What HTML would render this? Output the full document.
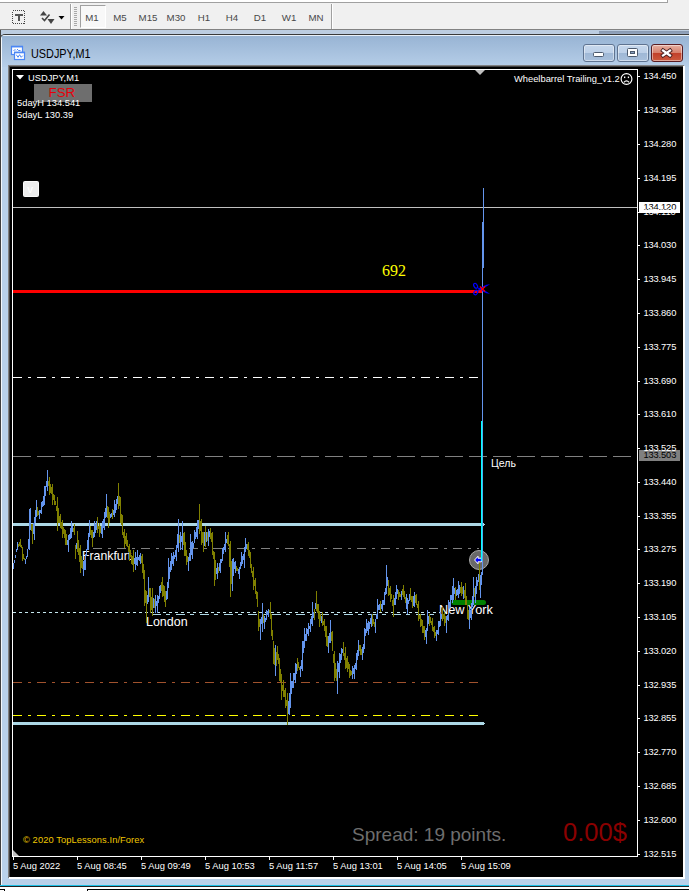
<!DOCTYPE html>
<html>
<head>
<meta charset="utf-8">
<title>USDJPY,M1</title>
<style>
html,body{margin:0;padding:0;overflow:hidden;}
html{width:689px;height:891px;}
body{width:689px;height:891px;overflow:hidden;position:relative;background:#f0f0f0;font-family:"Liberation Sans",sans-serif;}
.abs{position:absolute;}
/* toolbar */
#tb{position:absolute;left:0;top:0;width:689px;height:30px;background:#f0f0f0;}
#tbtop{position:absolute;left:0;top:0;width:667px;height:2px;background:#fff;border-bottom:1px solid #a0a0a0;border-right:1px solid #a0a0a0;}
.tf{position:absolute;top:11.5px;font-size:9.7px;line-height:12px;color:#484848;white-space:nowrap;transform:translateX(-50%);}
#m1btn{position:absolute;left:80px;top:5px;width:24px;height:21px;border:1px solid #a0a0a0;border-right-color:#fff;border-bottom-color:#fff;background:#f8f8f8;}
/* mdi */
#mdibg{position:absolute;left:0;top:30px;width:689px;height:861px;background:#bccde1;}
#tbline{position:absolute;left:0;top:29px;width:689px;height:1px;background:#828282;}
#win{position:absolute;left:0;top:34px;width:689px;height:851px;border:1px solid #3a3a3a;border-right:none;border-bottom:none;border-radius:5px 0 0 0;box-sizing:border-box;background:#b9d1ea;overflow:hidden;}
#mdileft{position:absolute;left:0;top:30px;width:1px;height:855px;background:#404040;}
#mdileft2{position:absolute;left:1px;top:38px;width:1px;height:847px;background:#f4f8fc;}
#bot{position:absolute;left:0;top:885px;width:689px;height:6px;background:#fff;border-top:1px solid #1cc0e6;box-sizing:border-box;}
#bot i{position:absolute;display:block;background:#000;}
#title{position:absolute;left:0;top:0;width:687px;height:31px;background:linear-gradient(#98b4d4,#b6cee8);border-top:1px solid #e8f0f8;border-left:1px solid #e8f0f8;}
#ttext{position:absolute;left:30.5px;top:46.5px;font-size:12px;line-height:14px;color:#000;white-space:nowrap;transform:scaleX(.905);transform-origin:0 0;}
#client{position:absolute;left:10px;top:67px;width:673px;height:810px;background:#000;}
#clientedge{position:absolute;left:8px;top:65px;width:676px;height:813px;background:#808080;}
#clientedge2{position:absolute;left:9px;top:66px;width:676px;height:813px;background:#404040;border-right:2px solid #fff;border-bottom:2px solid #fff;box-sizing:border-box;}
/* chart */
#chart{position:absolute;left:12px;top:69px;width:624px;height:785.5px;border:1px solid #fff;box-sizing:content-box;}
.ct{position:absolute;color:#fff;font-size:9.33px;line-height:10px;white-space:nowrap;}
.pl{position:absolute;margin-top:-0.5px;left:643.5px;color:#fff;font-size:9.33px;line-height:10px;white-space:nowrap;letter-spacing:-0.15px;}
.pt{position:absolute;left:638px;width:2px;height:1px;background:#fff;margin-top:-0.5px;}
.tl{position:absolute;top:861px;color:#fff;font-size:9.33px;line-height:10px;white-space:nowrap;}
.tt{position:absolute;top:857px;width:1px;height:3px;background:#fff;}
svg{position:absolute;left:0;top:0;}
.sl{font-size:13.33px;line-height:14px;transform-origin:0 0;}
.fsr{position:absolute;left:34px;top:84px;width:58px;height:18px;background:#6e6e6e;}
.fsrt{position:absolute;left:48.5px;top:86px;font-size:13.33px;line-height:14px;color:#e8000a;white-space:nowrap;}
.vbox{position:absolute;left:23px;top:181px;width:14px;height:14px;background:#ececec;border:1px solid #fafafa;border-radius:1.5px;}
.pbox{position:absolute;left:639px;width:41px;height:11px;font-size:9.33px;line-height:11px;text-indent:4.5px;white-space:nowrap;letter-spacing:-0.15px;}
.wb{position:absolute;top:44px;width:30px;height:16px;border:1px solid #5f7390;border-radius:3px;background:linear-gradient(#c7d8ec 0%,#bdd0e8 48%,#9fb8d6 52%,#a9c0dc 100%);box-shadow:inset 0 0 0 1px rgba(255,255,255,.45);}
.wbc{border-color:#5a1c22;background:linear-gradient(#e6b0a2 0%,#d7806c 48%,#c2402a 52%,#cc5a3e 100%);}

</style>
</head>
<body>
<div id="tb">
  <div id="tbtop"></div>
  <div id="m1btn"></div>
  <div class="tf" style="left:92px">M1</div>
  <div class="tf" style="left:120px">M5</div>
  <div class="tf" style="left:148px">M15</div>
  <div class="tf" style="left:176px">M30</div>
  <div class="tf" style="left:204px">H1</div>
  <div class="tf" style="left:232px">H4</div>
  <div class="tf" style="left:260px">D1</div>
  <div class="tf" style="left:289px">W1</div>
  <div class="tf" style="left:316px">MN</div>
</div>
<div id="mdibg"></div>
<div id="tbline"></div>
<div class="abs" style="left:599px;top:31px;width:90px;height:3px;background:linear-gradient(#8797ae,#93a6c0)"></div>
<div id="win"><div id="title"></div></div>
<div id="bot"><i style="left:0;top:0;width:689px;height:1px;background:#222"></i><i style="left:0;top:3px;width:5px;height:1px"></i><i style="left:4px;top:3px;width:1px;height:2px"></i><i style="left:87px;top:3px;width:602px;height:1px"></i><i style="left:87px;top:3px;width:1px;height:2px"></i></div>
<div id="mdileft"></div><div id="mdileft2"></div>
<div id="ttext">USDJPY,M1</div>
<div id="clientedge"></div>
<div id="clientedge2"></div>
<div id="client"></div>
<div id="chart"></div>

<div class="ct sl" style="left:82.3px;top:549.2px;transform:scaleX(.923)">Frankfurt</div>
<div class="ct sl" style="left:146.2px;top:615.2px;transform:scaleX(.935)">London</div>
<div class="ct sl" style="left:439.3px;top:603px;transform:scaleX(.958)">New York</div>
<div class="wb" style="left:583px"></div>
<div class="wb" style="left:617px"></div>
<div class="wb wbc" style="left:651px"></div>
<svg width="689" height="891" viewBox="0 0 689 891">

<!-- horizontal lines -->
<g shape-rendering="crispEdges" fill="none">
<path d="M13 207.5H637" stroke="#c0c0c0" stroke-width="1"/>
<path d="M13 291.5H482" stroke="#ff0000" stroke-width="3"/>
<path d="M13 377.5H479" stroke="#ffffff" stroke-width="1" stroke-dasharray="9 6 3 6"/>
<path d="M13 456.5H636" stroke="#808080" stroke-width="1" stroke-dasharray="18 6"/>
<path d="M13 524H484" stroke="#add8e6" stroke-width="3"/><path d="M484 524.5H485" stroke="#add8e6" stroke-width="1"/>
<path d="M92.5 548.5H479" stroke="#808080" stroke-width="1" stroke-dasharray="9 6 3 6"/>
<path d="M13 612.5H440" stroke="#c4e6ee" stroke-width="1" stroke-dasharray="3 3"/>
<path d="M152 614.5H440" stroke="#add8e6" stroke-width="1" stroke-dasharray="9 5 4 6"/>
<path d="M13 682.5H480" stroke="#a0522d" stroke-width="1" stroke-dasharray="9 6 3 6"/>
<path d="M13 715.5H479" stroke="#ffff00" stroke-width="1" stroke-dasharray="9 6 3 6"/>
<path d="M13 723H484" stroke="#add8e6" stroke-width="3"/><path d="M484 723.5H485" stroke="#add8e6" stroke-width="1"/>
</g>
<!-- circle marker -->
<circle cx="479" cy="560" r="9.5" fill="#696969" stroke="#a9a9a9" stroke-width="1"/>
<path d="M474.6 560L478 556.2V558.2H481.4V561.8H478V563.8Z" fill="#0000ff" stroke="#fff" stroke-width="1"/>
<path d="M454 602.5H483.5" stroke="#008000" stroke-width="5" stroke-linecap="round" fill="none"/>
<path d="M18.5 544V547M19.5 542V546M20.5 539V547M21.5 545V548M22.5 547V561M23.5 554V559M24.5 558V560M31.5 524V531M32.5 524V544M37.5 507V516M38.5 511V515M48.5 481V486M49.5 477V495M50.5 484V493M51.5 487V494M52.5 484V505M53.5 494V500M54.5 495V505M55.5 501V505M56.5 506V511M57.5 497V531M58.5 508V523M59.5 516V523M60.5 514V528M61.5 522V529M62.5 520V538M63.5 527V534M64.5 529V538M65.5 530V545M66.5 534V545M73.5 528V532M74.5 524V535M75.5 545V559M77.5 531V552M78.5 540V555M79.5 548V562M80.5 545V573M81.5 556V568M82.5 560V569M90.5 526V535M91.5 530V538M92.5 530V547M97.5 517V533M98.5 526V529M99.5 523V537M100.5 526V533M107.5 506V518M108.5 507V528M109.5 512V523M112.5 509V519M118.5 483V509M119.5 496V506M120.5 497V523M121.5 514V525M122.5 515V535M123.5 532V538M124.5 529V548M125.5 536V544M126.5 533V546M127.5 540V547M128.5 546V552M129.5 544V561M130.5 550V557M131.5 555V564M132.5 556V565M133.5 550V572M141.5 556V563M142.5 554V573M143.5 564V579M144.5 570V606M145.5 590V603M146.5 591V623M149.5 588V597M150.5 588V613M151.5 597V610M152.5 588V616M154.5 599V608M161.5 582V591M162.5 577V597M163.5 585V596M164.5 586V602M165.5 591V607M179.5 535V543M183.5 533V545M184.5 532V556M185.5 542V556M186.5 550V565M187.5 556V562M199.5 504V534M200.5 521V531M201.5 519V545M202.5 532V543M203.5 532V552M205.5 526V547M207.5 532V541M210.5 528V539M211.5 533V542M212.5 532V555M213.5 551V559M214.5 552V586M215.5 560V580M218.5 567V573M227.5 535V544M228.5 532V546M229.5 544V567M230.5 541V597M231.5 561V584M236.5 566V571M237.5 568V571M247.5 544V550M248.5 542V556M249.5 550V558M250.5 552V568M251.5 564V573M252.5 571V577M253.5 567V590M254.5 580V586M255.5 578V594M256.5 591V599M257.5 592V607M258.5 611V631M259.5 619V627M263.5 614V623M269.5 610V613M270.5 602V619M271.5 614V636M272.5 630V640M273.5 641V664M274.5 648V665M276.5 652V666M277.5 646V660M278.5 654V664M279.5 658V681M280.5 669V682M281.5 674V700M282.5 685V691M283.5 680V697M284.5 690V697M285.5 688V708M286.5 700V706M287.5 693V725M297.5 658V671M298.5 662V668M299.5 667V670M314.5 609V620M316.5 591V611M317.5 604V613M318.5 604V619M319.5 611V627M320.5 614V621M322.5 612V626M323.5 621V625M324.5 619V631M325.5 626V637M326.5 626V646M327.5 636V647M331.5 632V641M332.5 631V651M333.5 654V663M334.5 651V681M335.5 663V678M336.5 669V681M343.5 642V656M344.5 653V660M345.5 647V669M346.5 658V668M347.5 656V672M348.5 662V669M349.5 664V678M350.5 670V676M351.5 671V675M359.5 645V651M360.5 645V655M361.5 649V655M372.5 614V626M373.5 619V624M374.5 622V627M380.5 601V612M388.5 580V596M389.5 588V595M390.5 586V602M391.5 594V599M392.5 600V606M393.5 595V617M398.5 590V600M399.5 592V597M400.5 594V597M402.5 589V595M403.5 585V597M404.5 591V599M405.5 597V603M410.5 588V600M411.5 596V602M412.5 596V608M415.5 595V603M416.5 594V605M417.5 604V608M418.5 601V621M419.5 615V619M420.5 614V627M421.5 619V626M422.5 620V633M423.5 626V633M424.5 626V640M429.5 614V626M430.5 617V623M431.5 621V625M432.5 618V631M433.5 627V632M434.5 626V638M435.5 632V636M442.5 607V621M443.5 614V619M444.5 612V626M445.5 616V623M455.5 587V600M460.5 587V593M461.5 582V596M462.5 587V594M464.5 590V598M465.5 583V605M466.5 596V605M467.5 605V619M468.5 610V620M474.5 588V597M479.5 563V590" stroke="#808000" stroke-width="1" fill="none" shape-rendering="crispEdges"/><path d="M13.5 563V569M14.5 560V563M15.5 555V558M16.5 549V552M17.5 542V550M25.5 559V564M26.5 556V559M27.5 549V557M28.5 539V549M29.5 509V550M30.5 508V530M33.5 523V534M34.5 517V540M35.5 510V523M36.5 500V517M39.5 510V519M40.5 510V513M41.5 502V514M42.5 501V507M43.5 496V506M44.5 486V505M45.5 486V496M46.5 481V487M47.5 470V491M67.5 540V545M68.5 535V552M69.5 534V540M70.5 528V539M71.5 521V538M72.5 526V532M76.5 543V549M83.5 561V576M84.5 560V570M85.5 554V570M86.5 549V556M87.5 540V550M88.5 533V550M89.5 520V537M93.5 532V538M94.5 521V537M95.5 524V533M96.5 521V530M101.5 526V534M102.5 521V538M103.5 519V528M104.5 512V530M105.5 508V518M106.5 494V517M110.5 514V518M111.5 513V517M113.5 510V515M114.5 500V517M115.5 504V513M116.5 499V510M117.5 496V504M134.5 558V564M135.5 552V570M136.5 557V565M137.5 550V566M138.5 557V560M139.5 555V561M140.5 553V564M147.5 595V604M148.5 577V602M153.5 598V608M155.5 595V613M156.5 601V606M157.5 595V613M158.5 596V603M159.5 586V599M160.5 585V593M166.5 591V600M167.5 582V599M168.5 558V588M169.5 567V579M170.5 561V572M171.5 553V570M172.5 556V564M173.5 552V566M174.5 555V559M175.5 550V557M176.5 545V561M177.5 534V548M178.5 519V552M180.5 532V550M181.5 536V542M182.5 521V550M188.5 557V571M189.5 553V561M190.5 534V561M191.5 542V555M192.5 541V559M193.5 543V548M194.5 530V543M195.5 532V539M196.5 527V537M197.5 520V539M198.5 520V529M204.5 532V546M206.5 532V542M208.5 529V546M209.5 531V537M216.5 568V574M217.5 563V579M219.5 563V571M220.5 559V573M221.5 559V563M222.5 548V561M223.5 547V554M224.5 544V550M225.5 532V552M226.5 539V543M232.5 559V591M233.5 558V576M234.5 562V569M235.5 561V573M238.5 569V574M239.5 567V579M240.5 562V569M241.5 552V566M242.5 556V564M243.5 554V560M244.5 547V568M245.5 538V552M246.5 544V549M260.5 619V640M261.5 617V624M262.5 603V632M264.5 616V629M265.5 618V622M266.5 610V620M267.5 611V615M268.5 609V617M275.5 645V676M288.5 701V714M289.5 693V715M290.5 673V708M291.5 681V694M292.5 681V688M293.5 673V688M294.5 673V680M295.5 663V683M296.5 664V674M300.5 666V677M301.5 660V669M302.5 641V671M303.5 641V653M304.5 628V648M305.5 634V641M306.5 628V641M307.5 629V634M308.5 623V636M309.5 626V629M310.5 619V632M311.5 616V624M312.5 602V626M313.5 612V618M315.5 603V609M321.5 616V623M328.5 636V653M329.5 633V643M330.5 620V643M337.5 661V694M338.5 663V672M339.5 653V678M340.5 654V663M341.5 648V660M342.5 649V653M352.5 666V679M353.5 668V674M354.5 665V679M355.5 663V669M356.5 653V670M357.5 650V660M358.5 640V656M362.5 647V660M363.5 644V653M364.5 628V649M365.5 629V636M366.5 619V633M367.5 623V631M368.5 621V635M369.5 622V629M370.5 618V624M371.5 614V627M375.5 619V633M376.5 614V619M377.5 599V619M378.5 605V610M379.5 604V610M381.5 604V609M382.5 600V611M383.5 600V605M384.5 592V605M385.5 588V595M386.5 565V594M387.5 577V586M394.5 598V605M395.5 592V605M396.5 585V599M397.5 589V594M401.5 591V600M406.5 594V609M407.5 598V614M408.5 600V604M409.5 594V601M413.5 596V606M414.5 592V607M425.5 630V637M426.5 628V644M427.5 610V631M428.5 616V624M436.5 630V641M437.5 630V634M438.5 621V635M439.5 621V627M440.5 612V626M441.5 614V619M446.5 616V633M447.5 615V620M448.5 600V621M449.5 602V608M450.5 595V607M451.5 595V600M452.5 586V603M453.5 578V600M454.5 588V594M456.5 590V596M457.5 589V595M458.5 581V598M459.5 585V594M463.5 586V599M469.5 607V629M470.5 610V618M471.5 603V620M472.5 596V607M473.5 577V605M475.5 586V603M476.5 577V594M477.5 580V586M478.5 574V582M480.5 575V598M481.5 572V585M482.5 556V575" stroke="#6495ed" stroke-width="1" fill="none" shape-rendering="crispEdges"/>
<g shape-rendering="crispEdges" fill="none">
<path d="M483.5 188V222" stroke="#6495ed" stroke-width="1"/>
<path d="M483 222V268" stroke="#6495ed" stroke-width="2"/>
<path d="M482.5 268V575" stroke="#6495ed" stroke-width="1"/>
<path d="M481.5 421V561" stroke="#00ffff" stroke-width="1"/>
<path d="M482.5 421V556" stroke="#4ab4f4" stroke-width="1"/>
</g>


<!-- toolbar icons -->
<g shape-rendering="crispEdges">
<rect x="12.5" y="10.5" width="12" height="13" fill="none" stroke="#444" stroke-width="1" stroke-dasharray="1 1"/>
<path d="M15 14H23V15.6H19.8V21.4H18.2V15.6H15Z" fill="#555"/>
<path d="M70.5 4V29" stroke="#a0a0a0" stroke-width="1"/><path d="M71.5 4V29" stroke="#fff" stroke-width="1"/>
<path d="M74 7.5H77M74 9.5H77M74 11.5H77M74 13.5H77M74 15.5H77M74 17.5H77M74 19.5H77M74 21.5H77M74 23.5H77M74 25.5H77" stroke="#a8a8a8" stroke-width="1"/>
<path d="M331.5 4V29" stroke="#a0a0a0" stroke-width="1"/><path d="M332.5 4V29" stroke="#fff" stroke-width="1"/>
</g>
<path d="M58.5 16H64.5L61.5 19.5Z" fill="#000"/>
<path d="M40 15.5L43.5 11L47 15.5Z" fill="#444"/>
<path d="M47.5 19L51 24L54.5 19Z" fill="#444"/>
<path d="M42 18L44.5 20.5L49.5 14.5" fill="none" stroke="#444" stroke-width="1.6"/>

<!-- title icon -->
<g>
<rect x="11.5" y="46.5" width="11" height="8" fill="#fff" stroke="#4a86f5" stroke-width="1.2"/>
<path d="M11 46.6H23" stroke="#4a86f5" stroke-width="1.6"/>
<path d="M13.5 51L15 49.5L16 50.5M17 49L18.5 50.5L20.5 50.5" stroke="#4a86f5" stroke-width="1" fill="none"/>
<rect x="14.5" y="52.5" width="10" height="7" fill="#fff" stroke="#4a86f5" stroke-width="1.2"/>
<path d="M14 52.4H25" stroke="#4a86f5" stroke-width="1.6"/>
<path d="M16.3 54.7L18 57.3L19.6 54.7L21.2 57.3L22.8 55.6" stroke="#4a86f5" stroke-width="1" fill="none"/>
</g>
<!-- chart corner triangles -->
<path d="M16 75H24L20 79.5Z" fill="#fff"/>
<path d="M13 850L19 856H13Z" fill="#c0c0c0"/>
<path d="M475 70H485L480 75Z" fill="#c0c0c0"/>
<!-- sad face -->
<g fill="none" stroke="#fff" stroke-width="1.15">
<circle cx="626.5" cy="79" r="5.4"/>
<path d="M623.8 82.3Q626.5 79.6 629.2 82.3"/>
</g>
<rect x="624" y="76.5" width="1.3" height="1.6" fill="#fff"/><rect x="627.8" y="76.5" width="1.3" height="1.6" fill="#fff"/>
<!-- scissors -->
<g fill="none" stroke="#0000ff" stroke-width="1.2">
<ellipse cx="475.6" cy="285.8" rx="1.7" ry="2.6" transform="rotate(-30 475.6 285.8)"/>
<ellipse cx="475.8" cy="292.5" rx="1.7" ry="2.4" transform="rotate(35 475.8 292.5)"/>
</g>
<path d="M477 287.6L481 288.2L490 293.8L486.5 293.2L480 290.2Z" fill="#0000ff"/>
<path d="M477.2 291L481 289.8L490 284.2L486.5 284.8L480 287.8Z" fill="#0000ff"/>
<path d="M480 286.5L485 291.5M485 286.5L480 291.5" stroke="#ff0000" stroke-width="1.4" fill="none"/>
<!-- window button glyphs -->
<rect x="593.5" y="52.5" width="10" height="4" rx="1" fill="#fff" stroke="#4c5a6e" stroke-width="1"/>
<rect x="627.5" y="48.5" width="10" height="8" rx="1" fill="#fff" stroke="#4c5a6e" stroke-width="1"/>
<rect x="630.5" y="51.5" width="4" height="2" fill="#8aa2c2" stroke="#4c5a6e" stroke-width="1"/>
<path d="M663 50.5L670 55.5M670 50.5L663 55.5" stroke="#4a2020" stroke-width="4" fill="none" stroke-linecap="square"/>
<path d="M663 50.5L670 55.5M670 50.5L663 55.5" stroke="#fff" stroke-width="2.2" fill="none" stroke-linecap="square"/>

</svg>


<div class="ct" style="left:28px;top:72.5px">USDJPY,M1</div>
<div class="fsr"></div><div class="fsrt">FSR</div>
<div class="ct" style="left:17px;top:97.5px">5dayH 134.541</div>
<div class="ct" style="left:17px;top:109.5px">5dayL 130.39</div>
<div class="vbox"></div><div class="ct" style="left:27.2px;top:182.5px;color:#fff;font-size:11.5px;line-height:12px">v</div>
<div class="ct" style="left:514px;top:73.5px">Wheelbarrel Trailing_v1.2</div>
<div class="abs" style="left:382px;top:262px;font-family:'Liberation Serif',serif;font-size:16px;line-height:18px;color:#ffff00;white-space:nowrap">692</div>
<div class="ct" style="left:491px;top:458px;font-size:10.5px;line-height:11px">Цель</div>
<div class="ct" style="left:23px;top:834.5px;color:#f0c800;letter-spacing:0.08px">© 2020 TopLessons.In/Forex</div>
<div class="abs" style="left:352px;top:824px;font-size:19px;line-height:22px;color:#6e6e6e;white-space:nowrap">Spread: 19 points.</div>
<div class="abs" style="left:563px;top:817px;font-size:25.5px;line-height:30px;color:#8b0000;white-space:nowrap">0.00$</div>
<div class="pbox" style="top:202px;background:#fff;color:#000">134.120</div>
<div class="pbox" style="top:450px;background:#808080;color:#000">133.503</div>
<div class="pl" style="top:71px">134.450</div><div class="pt" style="top:76px"></div><div class="pl" style="top:105px">134.365</div><div class="pt" style="top:110px"></div><div class="pl" style="top:139px">134.280</div><div class="pt" style="top:144px"></div><div class="pl" style="top:173px">134.195</div><div class="pt" style="top:178px"></div><div class="pl" style="top:207px">134.110</div><div class="pt" style="top:212px"></div><div class="pl" style="top:240px">134.030</div><div class="pt" style="top:245px"></div><div class="pl" style="top:274px">133.945</div><div class="pt" style="top:279px"></div><div class="pl" style="top:308px">133.860</div><div class="pt" style="top:313px"></div><div class="pl" style="top:342px">133.775</div><div class="pt" style="top:347px"></div><div class="pl" style="top:376px">133.690</div><div class="pt" style="top:381px"></div><div class="pl" style="top:409px">133.610</div><div class="pt" style="top:414px"></div><div class="pl" style="top:443px">133.525</div><div class="pt" style="top:448px"></div><div class="pl" style="top:477px">133.440</div><div class="pt" style="top:482px"></div><div class="pl" style="top:511px">133.355</div><div class="pt" style="top:516px"></div><div class="pl" style="top:544px">133.275</div><div class="pt" style="top:549px"></div><div class="pl" style="top:578px">133.190</div><div class="pt" style="top:583px"></div><div class="pl" style="top:612px">133.105</div><div class="pt" style="top:617px"></div><div class="pl" style="top:646px">133.020</div><div class="pt" style="top:651px"></div><div class="pl" style="top:680px">132.935</div><div class="pt" style="top:685px"></div><div class="pl" style="top:713px">132.855</div><div class="pt" style="top:718px"></div><div class="pl" style="top:747px">132.770</div><div class="pt" style="top:752px"></div><div class="pl" style="top:781px">132.685</div><div class="pt" style="top:786px"></div><div class="pl" style="top:815px">132.600</div><div class="pt" style="top:820px"></div><div class="pl" style="top:849px">132.515</div><div class="pt" style="top:854px"></div>
<div class="tl" style="left:13px">5 Aug 2022</div><div class="tt" style="left:13px"></div><div class="tl" style="left:77px">5 Aug 08:45</div><div class="tt" style="left:77px"></div><div class="tl" style="left:141px">5 Aug 09:49</div><div class="tt" style="left:141px"></div><div class="tl" style="left:205px">5 Aug 10:53</div><div class="tt" style="left:205px"></div><div class="tl" style="left:269px">5 Aug 11:57</div><div class="tt" style="left:269px"></div><div class="tl" style="left:333px">5 Aug 13:01</div><div class="tt" style="left:333px"></div><div class="tl" style="left:397px">5 Aug 14:05</div><div class="tt" style="left:397px"></div><div class="tl" style="left:461px">5 Aug 15:09</div><div class="tt" style="left:461px"></div>
</body>
</html>
